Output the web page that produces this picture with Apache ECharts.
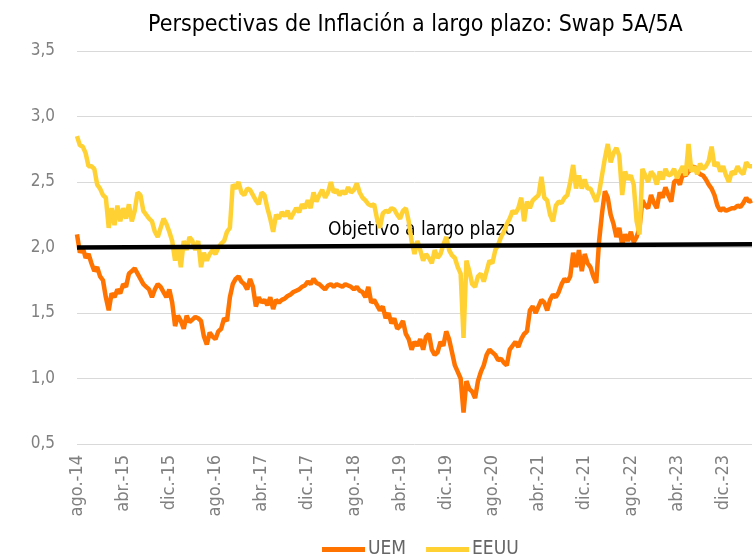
<!DOCTYPE html>
<html>
<head>
<meta charset="utf-8">
<script src="https://cdn.jsdelivr.net/npm/echarts@6/dist/echarts.min.js"></script>
<style>
  html, body { margin: 0; padding: 0; background: #fff; }
  #chart { width: 753px; height: 560px; }
</style>
</head>
<body>
<div id="chart"></div>
<script>
// meses (ago.-14 .. abr.-24), dos observaciones por mes
const monthNames = ['ene.', 'feb.', 'mar.', 'abr.', 'may.', 'jun.', 'jul.', 'ago.', 'sep.', 'oct.', 'nov.', 'dic.']
const startMonth = 7 // agosto
const startYear = 14
const pointsPerMonth = 2

const uem = [
  2.10, 1.96, 2.00, 1.92, 1.95, 1.88, 1.82, 1.85, 1.78, 1.75,
  1.62, 1.52, 1.65, 1.62, 1.68, 1.65, 1.72, 1.70, 1.80, 1.82,
  1.84, 1.80, 1.76, 1.72, 1.70, 1.68, 1.62, 1.68, 1.72, 1.70,
  1.66, 1.62, 1.68, 1.58, 1.40, 1.48, 1.44, 1.38, 1.48, 1.43,
  1.45, 1.47, 1.46, 1.44, 1.32, 1.26, 1.35, 1.32, 1.30, 1.36,
  1.38, 1.46, 1.44, 1.62, 1.72, 1.76, 1.78, 1.74, 1.72, 1.68,
  1.76, 1.70, 1.55, 1.62, 1.58, 1.60, 1.56, 1.62, 1.53, 1.60,
  1.58, 1.60, 1.61, 1.63, 1.64, 1.66, 1.67, 1.68, 1.70, 1.71,
  1.74, 1.72, 1.76, 1.73, 1.72, 1.70, 1.68, 1.71, 1.72, 1.70,
  1.72, 1.71, 1.70, 1.72, 1.71, 1.70, 1.68, 1.70, 1.67, 1.66,
  1.62, 1.70, 1.58, 1.60, 1.56, 1.52, 1.55, 1.46, 1.50, 1.42,
  1.46, 1.38, 1.40, 1.44, 1.34, 1.30, 1.22, 1.28, 1.25, 1.30,
  1.22, 1.32, 1.34, 1.22, 1.18, 1.20, 1.28, 1.25, 1.36, 1.30,
  1.20, 1.10, 1.05, 1.00, 0.74, 0.98, 0.92, 0.90, 0.85, 0.98,
  1.05, 1.10, 1.18, 1.22, 1.20, 1.18, 1.14, 1.15, 1.12, 1.10,
  1.22, 1.25, 1.28, 1.24, 1.30, 1.34, 1.36, 1.52, 1.55, 1.50,
  1.55, 1.60, 1.58, 1.52, 1.60, 1.64, 1.62, 1.66, 1.72, 1.76,
  1.74, 1.78, 1.96, 1.85, 1.98, 1.82, 1.95, 1.88, 1.85, 1.78,
  1.73, 2.05, 2.26, 2.43, 2.38, 2.25, 2.18, 2.08, 2.15, 2.02,
  2.10, 2.05, 2.12, 2.04, 2.08, 2.15, 2.36, 2.32, 2.30, 2.40,
  2.34, 2.30, 2.42, 2.38, 2.46, 2.40, 2.35, 2.50, 2.52, 2.48,
  2.56, 2.55, 2.58, 2.60, 2.62, 2.58, 2.56, 2.55, 2.52, 2.48,
  2.45, 2.40, 2.32, 2.28, 2.30, 2.28, 2.29, 2.30, 2.30, 2.32,
  2.31, 2.34, 2.38, 2.35, 2.36
]

const eeuu = [
  2.85, 2.78, 2.77, 2.72, 2.62, 2.62, 2.60, 2.48, 2.45, 2.40,
  2.38, 2.15, 2.30, 2.17, 2.32, 2.20, 2.30, 2.22, 2.33, 2.20,
  2.28, 2.42, 2.40, 2.28, 2.25, 2.22, 2.20, 2.12, 2.08, 2.15,
  2.22, 2.18, 2.12, 2.05, 1.90, 2.00, 1.85, 2.05, 1.98, 2.08,
  2.05, 1.98, 2.05, 1.85, 1.96, 1.90, 1.95, 1.98, 1.95, 2.00,
  2.03, 2.05, 2.12, 2.15, 2.48, 2.45, 2.50, 2.42, 2.40, 2.45,
  2.44, 2.40, 2.36, 2.33, 2.42, 2.40, 2.30, 2.22, 2.12, 2.25,
  2.22, 2.27, 2.24, 2.28, 2.22, 2.26, 2.30, 2.27, 2.33, 2.30,
  2.36, 2.30, 2.42, 2.35, 2.40, 2.44, 2.38, 2.42, 2.50, 2.42,
  2.44, 2.40, 2.43, 2.41, 2.46, 2.42, 2.44, 2.49, 2.42, 2.38,
  2.36, 2.33, 2.32, 2.33, 2.22, 2.15, 2.26, 2.28, 2.27, 2.30,
  2.29, 2.25, 2.22, 2.28, 2.30, 2.20, 2.05, 1.95, 2.05, 1.98,
  1.90, 1.95, 1.92, 1.88, 1.98, 1.92, 1.95, 2.02, 2.08, 1.98,
  1.94, 1.92, 1.85, 1.80, 1.31, 1.90, 1.82, 1.72, 1.70, 1.78,
  1.80, 1.74, 1.82, 1.90, 1.88, 1.98, 2.02, 2.08, 2.12, 2.18,
  2.22, 2.28, 2.26, 2.30, 2.38, 2.20, 2.35, 2.30, 2.36, 2.38,
  2.40, 2.54, 2.38, 2.36, 2.25, 2.20, 2.32, 2.35, 2.34, 2.38,
  2.40, 2.50, 2.63, 2.45, 2.55, 2.45, 2.52, 2.45, 2.45, 2.40,
  2.35, 2.42, 2.55, 2.68, 2.79, 2.65, 2.72, 2.76, 2.70, 2.40,
  2.58, 2.52, 2.55, 2.48, 2.20, 2.10, 2.60, 2.55, 2.50, 2.58,
  2.55, 2.48, 2.58, 2.52, 2.60, 2.55, 2.56, 2.60, 2.53, 2.58,
  2.62, 2.55, 2.79, 2.58, 2.62, 2.56, 2.64, 2.60, 2.62, 2.66,
  2.77, 2.62, 2.65, 2.58, 2.62, 2.55, 2.50, 2.58, 2.56, 2.62,
  2.58, 2.56, 2.65, 2.62, 2.62
]

// objetivo a largo plazo: extremos de la recta
const objetivoStart = 2.0
const objetivoEnd = 2.025

const categories = uem.map((v, i) => {
  const m = startMonth + Math.floor(i / pointsPerMonth)
  return monthNames[m % 12] + '-' + (startYear + Math.floor(m / 12))
})
const objetivo = uem.map((v, i) => i === 0 ? objetivoStart : (i === uem.length - 1 ? objetivoEnd : null))

const font = '"DejaVu Sans Condensed", "Roboto Condensed", "Liberation Sans Narrow", Roboto, sans-serif'
const chart = echarts.init(document.getElementById('chart'))
const option = {
  backgroundColor: '#fff',
  animation: false,
  title: {
    text: 'Perspectivas de Inflación a largo plazo: Swap 5A/5A',
    left: 143,
    top: 9,
    textStyle: { fontFamily: font, fontSize: 23, fontWeight: 'normal', color: '#000' }
  },
  grid: { left: 77, right: 1, top: 51, bottom: 116 },
  legend: {
    data: ['UEM', 'EEUU'],
    top: 535,
    left: 317,
    icon: 'rect',
    itemWidth: 43,
    itemHeight: 5,
    itemGap: 20,
    textStyle: { fontFamily: font, fontSize: 19, color: '#666', padding: [0, 0, 0, -2] }
  },
  xAxis: {
    type: 'category',
    data: categories,
    boundaryGap: false,
    axisLine: { show: false },
    axisTick: { show: false },
    axisLabel: {
      interval: 15,
      rotate: 90,
      margin: 11,
      fontFamily: font,
      fontSize: 18,
      color: '#808080'
    }
  },
  yAxis: {
    type: 'value',
    min: 0.5,
    max: 3.5,
    interval: 0.5,
    axisLine: { show: false },
    axisTick: { show: false },
    splitLine: { lineStyle: { color: '#d9d9d9', width: 1 } },
    axisLabel: {
      margin: 22,
      fontFamily: font,
      fontSize: 17,
      color: '#808080',
      formatter: v => v.toFixed(1).replace('.', ',')
    }
  },
  graphic: [{
    type: 'text',
    left: 328,
    top: 221,
    style: { text: 'Objetivo a largo plazo', fontFamily: font, fontSize: 19, fill: '#000' }
  }],
  series: [
    {
      name: 'UEM',
      type: 'line',
      data: uem,
      showSymbol: false,
      color: '#FF7300',
      lineStyle: { width: 4.5, color: '#FF7300' }
    },
    {
      name: 'EEUU',
      type: 'line',
      data: eeuu,
      showSymbol: false,
      color: '#FFD133',
      lineStyle: { width: 4.5, color: '#FFD133' }
    },
    {
      name: 'Objetivo',
      type: 'line',
      data: objetivo,
      connectNulls: true,
      showSymbol: false,
      z: 5,
      color: '#000',
      lineStyle: { width: 4.5, color: '#000' }
    }
  ]
}
chart.setOption(option)
</script>
</body>
</html>
